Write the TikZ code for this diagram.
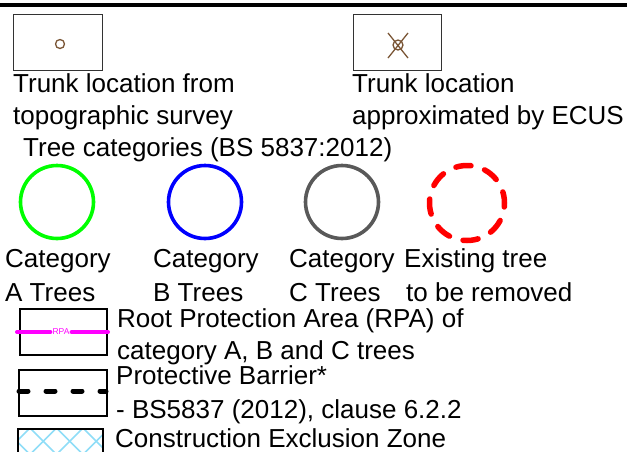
\documentclass[tikz,border=0pt]{standalone}
\usepackage{fontspec}
\setmainfont{Liberation Sans}
\definecolor{trunkbrown}{HTML}{7A5535}
\definecolor{catgreen}{HTML}{00FF00}
\definecolor{catblue}{HTML}{0000FF}
\definecolor{catgrey}{HTML}{595959}
\definecolor{rpapink}{HTML}{FF00FF}
\definecolor{hatchblue}{HTML}{8FDDF7}
\begin{document}
\begin{tikzpicture}[x=1pt,y=-1pt,
  lbl/.style={anchor=base west,inner sep=0pt,font=\fontsize{26}{31}\selectfont},
  symbox/.style={draw=black!80,line width=1.2pt,anchor=north west,inner sep=0pt},
  keybox/.style={draw=black,line width=2pt,anchor=north west,inner sep=0pt},
  ring/.style={circle,line width=3.6pt,inner sep=0pt,minimum size=73pt},
  trunk/.style={draw=trunkbrown,line width=1.3pt},
  hatch/.style={draw=hatchblue,line width=1.6pt}]
\useasboundingbox (0,0) rectangle (627,451);

% heading rule
\coordinate (ruleL) at (0,5);
\coordinate (ruleR) at (627,5);
\draw[line width=3.5pt] (ruleL) -- (ruleR);

% trunk symbols
\node[symbox,minimum width=89pt,minimum height=56pt] (surveybox) at (13,14) {};
\node[trunk,circle,inner sep=0pt,minimum size=9pt] (surveytrunk) at (60,44) {};
\node[symbox,minimum width=88pt,minimum height=56pt] (ecusbox) at (353,14) {};
\node[trunk,circle,inner sep=0pt,minimum size=10pt] (ecustrunk) at (398,45) {};
\coordinate (xa) at (388,33);
\coordinate (xb) at (408,58);
\coordinate (xc) at (408,33);
\coordinate (xd) at (388,58);
\draw[trunk] (xa) -- (xb) (xc) -- (xd);

\node[lbl] (surveyA) at (13,92) {Trunk location from};
\node[lbl] (surveyB) at (13,124) {topographic survey};
\node[lbl] (ecusA) at (352,92) {Trunk location};
\node[lbl] (ecusB) at (352,124) {approximated by ECUS};

% tree categories
\node[lbl] (cattitle) at (23,156) {Tree categories (BS 5837:2012)};
\node[ring,draw=catgreen] (catA) at (57,202) {};
\node[ring,draw=catblue] (catB) at (205,202) {};
\node[ring,draw=catgrey] (catC) at (342,202) {};
\node[circle,inner sep=0pt,minimum size=75pt,draw=red,line width=5.5pt,
      line cap=round,dash pattern=on 15.2pt off 14.25pt,dash phase=4pt] (removed) at (467,203) {};

\node[lbl] (catAa) at (5,267) {Category};
\node[lbl] (catAb) at (5,301) {A Trees};
\node[lbl] (catBa) at (153,267) {Category};
\node[lbl] (catBb) at (153,301) {B Trees};
\node[lbl] (catCa) at (289,267) {Category};
\node[lbl] (catCb) at (289,301) {C Trees};
\node[lbl] (remA) at (404,267) {Existing tree};
\node[lbl] (remB) at (406,301) {to be removed};

% root protection area
\node[keybox,minimum width=87pt,minimum height=46pt] (rpabox) at (19,308) {};
\node[text=rpapink,inner sep=0pt,font=\fontsize{8.5}{9}\selectfont] (rpatext) at (61,332) {RPA};
\coordinate (rpaL) at (17,332);
\coordinate (rpaR) at (108,332);
\draw[rpapink,line width=4pt,line cap=round] (rpaL) -- ([xshift=-2pt]rpatext.west);
\draw[rpapink,line width=4pt,line cap=round] ([xshift=2pt]rpatext.east) -- (rpaR);
\node[lbl] (rpaA) at (117,327) {Root Protection Area (RPA) of};
\node[lbl] (rpaB) at (117,359) {category A, B and C trees};

% protective barrier
\node[keybox,minimum width=88pt,minimum height=46pt] (barrierbox) at (18,369) {};
\coordinate (barL) at (19,391);
\coordinate (barR) at (106,391);
\draw[line width=5pt,line cap=round,dash pattern=on 9pt off 18pt] (barL) -- (barR);
\node[lbl] (barA) at (116,384) {Protective Barrier*};
\node[lbl] (barB) at (116,418) {- BS5837 (2012), clause 6.2.2};

% construction exclusion zone
\begin{scope}
  \clip (17,428) rectangle (102,460);
  \foreach \i in {-2,...,5} {
    \draw[hatch] (30+\i*26.5,428) -- ++(40,40);
    \draw[hatch] (30+\i*26.5,428) -- ++(-40,40);
  }
\end{scope}
\node[keybox,minimum width=85pt,minimum height=40pt] (cezbox) at (17,428) {};
\node[lbl] (cezA) at (115,447) {Construction Exclusion Zone};
\end{tikzpicture}
\end{document}
